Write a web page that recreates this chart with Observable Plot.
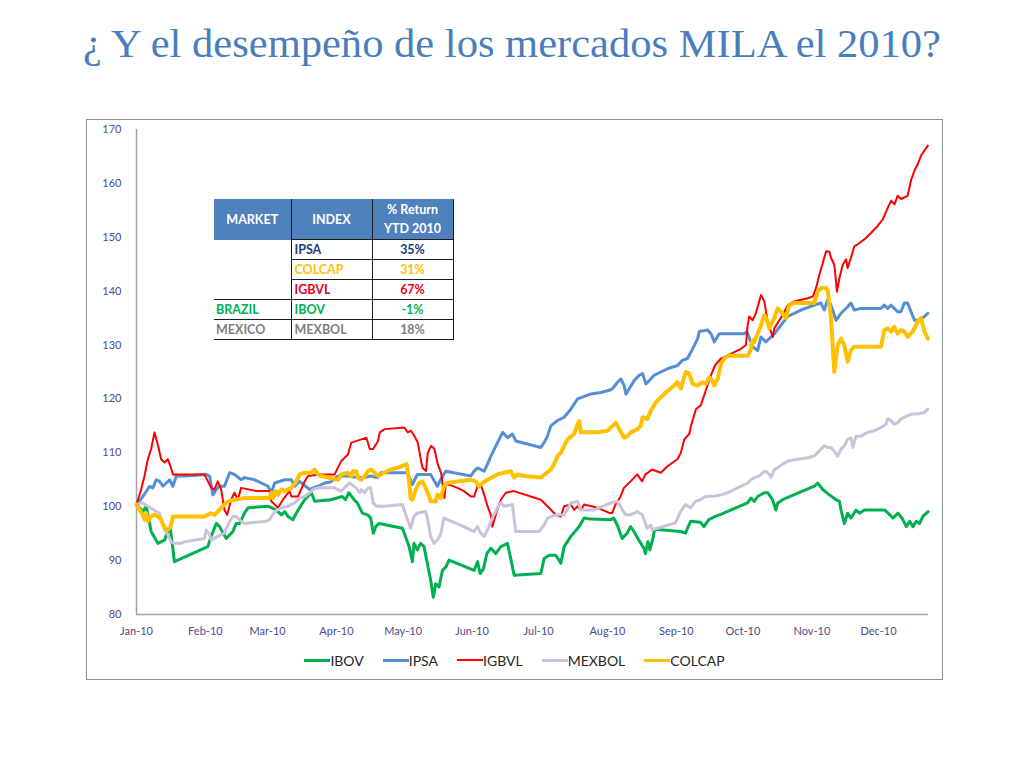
<!DOCTYPE html>
<html>
<head>
<meta charset="utf-8">
<script src="https://cdn.jsdelivr.net/npm/d3@7"></script>
<script src="https://cdn.jsdelivr.net/npm/@observablehq/plot@0.6"></script>
<style>
  html, body { margin: 0; padding: 0; background: #fff; }
  body { width: 1024px; height: 768px; position: relative; overflow: hidden; font-family: Lato, "Open Sans", sans-serif; }
  #title { position: absolute; left: 0; top: 0; }
  #chart { position: absolute; left: 86px; top: 119px; }
  #frame { position: absolute; left: 86px; top: 119px; width: 857px; height: 561px; box-sizing: border-box; border: 1.5px solid #8e8e8e; pointer-events: none; }
  #legend { position: absolute; left: 86px; top: 650px; width: 857px; height: 20px; display: flex; justify-content: center; align-items: center; gap: 19px; font-family: Lato, sans-serif; font-size: 14px; color: #262626; }
  #legend .item { display: flex; align-items: center; }
  #legend .swatch { display: inline-block; width: 26px; }
  #tbl { position: absolute; left: 214px; top: 199px; border-collapse: collapse; table-layout: fixed; width: 239px; font-family: Lato, sans-serif; font-weight: 700; font-size: 12.5px; background: #fff; }
  #tbl th { background: #4f81bd; color: #fff; height: 40px; padding: 0; text-align: center; font-weight: 700; font-size: 12.5px; line-height: 19px; border-right: 1.5px solid #1c1c1c; }
  #tbl th.sub { border-bottom: 1.5px solid #1c1c1c; }
  #tbl td { height: 19px; padding: 0; border-right: 1px solid #1c1c1c; border-bottom: 1px solid #1c1c1c; white-space: nowrap; }
  #tbl td.mk { padding-left: 2px; }
  #tbl td.ix { padding-left: 3px; }
  #tbl td.rt { text-align: center; }
</style>
</head>
<body>
<svg id="title" width="1024" height="100"></svg>
<div id="chart"></div>
<table id="tbl"></table>
<div id="legend"></div>
<div id="frame"></div>
<script>
// ---------- DATA (day offset from 2010-01-01, index level, base 100) ----------
const titleText = "¿ Y el desempeño de los mercados MILA el 2010?";
const seriesNames = ["IBOV", "IPSA", "IGBVL", "MEXBOL", "COLCAP"];
const monthLabels = ["Jan-10","Feb-10","Mar-10","Apr-10","May-10","Jun-10","Jul-10","Aug-10","Sep-10","Oct-10","Nov-10","Dec-10"];
const yTicks = [80, 90, 100, 110, 120, 130, 140, 150, 160, 170];

const ibov = [[0,100.4],[2.9,99.1],[4.4,100.1],[6.6,95.4],[9.6,93.2],[12.6,93.8],[14.1,95.4],[15.3,95.7],[17.1,89.8],[32.1,92.6],[33.6,94.5],[35.9,96.9],[37.4,96.3],[40.4,94.1],[43.4,95.4],[44.9,96.9],[46.4,96.9],[48.6,98.8],[50.2,99.8],[59.2,100.1],[62.9,99.4],[65.2,98.5],[66.7,99.1],[68.2,98.2],[70.4,97.6],[71.9,98.8],[73.4,99.8],[75.7,101.3],[78.7,102.6],[80.2,101.0],[87.4,101.3],[92.6,101.9],[94.1,101.3],[95.6,102.6],[97.9,101.3],[99.4,100.7],[101.7,98.8],[104,98.5],[105.4,97.9],[106.6,95.1],[107.7,96.3],[109.2,96.9],[119.7,96.0],[122.7,92.6],[124.2,89.8],[124.9,93.2],[126.4,92.0],[127.9,93.2],[129.4,92.6],[130.9,89.5],[132.4,86.4],[133.6,83.2],[134.7,85.7],[136.2,85.1],[137.7,88.2],[139.2,88.8],[140.7,90.1],[152,88.2],[153.5,89.8],[154.7,87.6],[156.2,88.5],[157.7,91.3],[159.5,92.3],[161.7,91.3],[164,92.6],[167,93.2],[170,87.3],[182,87.6],[183.5,90.4],[185.7,91.0],[188.7,91.0],[191,89.5],[192.5,92.6],[195.5,94.5],[199.2,96.3],[201.5,97.9],[204.4,97.7],[213.4,97.6],[214.8,97.9],[216.4,96.6],[218.6,94.1],[220.9,95.1],[222.4,96.3],[223.9,95.4],[226.1,93.8],[228.4,92.3],[229.1,91.3],[230.2,93.5],[231.1,92.0],[232.6,94.4],[233.2,95.8],[244.9,95.4],[247.1,95.1],[249.4,97.3],[253.9,97.1],[255.4,96.3],[257.6,97.6],[260.6,98.2],[263,98.6],[275,100.7],[276.6,101.6],[278.1,101.0],[279.6,101.9],[282.6,102.6],[284.1,102.6],[286.3,101.3],[287.8,99.4],[288.6,100.7],[290.8,101.3],[305.1,103.8],[306.6,104.4],[308.9,103.2],[311.9,102.2],[314.9,101.3],[316.4,101.0],[317.1,99.4],[318.6,96.9],[320.1,98.8],[321.6,97.9],[323.9,99.4],[325.4,98.8],[327.7,99.4],[336.7,99.4],[338.3,98.8],[340.5,97.9],[342.8,98.8],[345,97.6],[346.5,96.3],[348,97.3],[349.5,96.3],[351,97.3],[352.5,96.9],[354,98.2],[356.3,99.1]];

const ipsa = [[0,100.4],[2.9,101.9],[5.9,103.8],[7.4,103.5],[8.9,105.0],[10.4,104.7],[11.9,103.8],[14.9,105.0],[16.4,103.8],[17.9,105.7],[21.6,105.7],[31.4,106.0],[32.9,105.7],[34.4,102.2],[35.9,103.2],[37.4,103.8],[39.6,103.8],[41.9,106.3],[44.1,106.0],[47.1,105.0],[48.6,105.4],[53.2,105.0],[56.2,104.4],[59.2,103.8],[60.7,102.6],[62.2,104.4],[66.7,105.0],[69.7,105.0],[71.2,103.8],[73.4,104.7],[77.9,103.2],[81.7,103.8],[84.7,104.4],[87.4,104.6],[90.7,105.7],[95.2,105.7],[99.7,105.4],[102.4,105.4],[105.4,105.7],[108.4,105.4],[109.9,106.3],[121.9,106.3],[124.2,104.1],[126.4,106.0],[132.4,106.0],[135.4,103.8],[136.9,105.0],[139.2,106.6],[150.5,105.7],[152,106.6],[153.5,107.2],[156.5,106.6],[158,107.9],[159.5,109.4],[162.5,111.9],[164.8,113.8],[167,112.8],[169.2,113.5],[170.7,112.2],[182,111.0],[183.5,111.9],[185,113.1],[186.5,115.0],[189.5,116.0],[192.5,116.6],[195.5,118.1],[198.5,120.0],[204.4,120.9],[209,121.2],[212.8,121.6],[214.3,121.9],[216.5,123.1],[218,123.7],[219.5,122.5],[220.3,120.9],[221.8,121.9],[224,123.4],[226.3,124.4],[227.8,124.7],[229.3,122.8],[231.5,123.7],[233,124.4],[239,125.6],[243.5,126.2],[245.8,127.2],[248,127.5],[249.6,128.7],[252.6,131.2],[253.3,132.5],[257.1,132.8],[258.6,132.1],[260.1,130.6],[262.3,132.1],[273.6,132.1],[274.8,132.5],[277.3,129.7],[279.6,129.0],[281.1,131.5],[283.3,130.6],[285.6,131.5],[287.1,132.1],[290.1,133.7],[293.1,135.3],[299.1,136.5],[305.1,137.4],[308.1,137.8],[309.6,136.5],[311.1,138.4],[312.6,137.4],[314.9,134.6],[317.1,135.9],[320.1,137.1],[321.6,137.8],[323.1,136.5],[326.1,136.8],[335.1,136.8],[336.6,137.4],[338.1,136.8],[339.6,137.4],[342.6,136.2],[344.1,136.2],[345.6,137.8],[347.1,137.8],[348.6,136.2],[350.2,134.6],[352.4,134.6],[354.7,135.3],[356.2,135.9]];

const igbvl = [[0,100.4],[2.1,103.2],[3.6,105.7],[5.1,108.8],[6.6,110.7],[8.1,113.8],[9.9,111.0],[11.1,108.8],[12.6,108.2],[14.1,108.8],[15.3,107.5],[16.4,106.0],[30.6,106.0],[33.6,103.5],[35.1,103.2],[36.6,104.7],[38.1,103.2],[39.6,99.4],[40.8,98.5],[42.6,101.3],[44.1,102.6],[45.6,101.3],[47.1,103.5],[53.9,102.9],[59.9,102.9],[60.7,101.0],[62.2,100.4],[63.7,99.8],[65.9,101.3],[68.9,102.9],[69.7,101.9],[72.7,101.9],[75.7,104.7],[77.2,105.7],[81.7,106.0],[89.2,106.0],[92.2,108.5],[95.2,109.7],[96.7,111.9],[101.2,112.5],[103.5,112.8],[105,110.7],[106.5,110.7],[108.7,112.2],[109.5,113.8],[111.7,114.4],[120.6,114.7],[122.1,113.8],[123.6,114.1],[125.1,113.1],[126.6,111.9],[128.1,108.5],[128.8,107.2],[130.3,106.6],[131.1,110.0],[132.6,111.3],[134.1,110.7],[135.6,107.9],[137.1,106.3],[138.6,101.6],[139.2,104.1],[140.7,104.1],[144.5,103.5],[147.4,102.9],[150.5,101.9],[152,101.9],[153.5,103.8],[155,104.1],[156.5,102.2],[158,100.1],[159.5,98.5],[160.2,96.3],[161.7,98.5],[164,101.3],[166.2,102.6],[169.9,102.9],[182,101.3],[183.5,100.7],[185.7,99.8],[188.7,98.5],[191,98.2],[192.5,100.1],[195.5,100.4],[197,99.4],[198.5,100.1],[200,99.4],[201.5,100.4],[207.5,99.8],[212.6,98.9],[214.1,98.8],[215.6,100.4],[217.9,101.9],[219.4,103.5],[220.9,104.1],[222.4,104.7],[225.4,106.0],[227.6,104.7],[229.1,106.0],[232.1,106.9],[236,106.3],[239,107.5],[243.5,108.8],[245,110.0],[246.6,112.5],[248.8,113.5],[249.6,115.0],[251.8,118.1],[254,118.8],[257,122.5],[258.6,124.4],[260.5,126.3],[263.1,127.5],[266.1,128.1],[269.1,128.7],[272.1,129.3],[274.3,130.0],[275.1,133.7],[275.8,135.3],[277.3,134.6],[278.8,135.9],[281.1,139.3],[282.6,138.1],[284.1,134.3],[286.4,131.5],[287.1,133.1],[290.9,135.6],[293.1,137.4],[296.1,138.1],[299.1,138.4],[302.1,138.7],[304.4,139.0],[305.9,140.6],[307.4,143.1],[308.9,145.2],[310.4,147.4],[311.9,147.3],[312.6,146.2],[314.1,144.9],[315.3,139.9],[316.4,142.4],[317.9,144.9],[319.4,145.9],[320.1,144.3],[321.6,146.2],[323.1,148.3],[324.6,148.7],[327.6,149.6],[330.6,150.8],[333.6,152.1],[335.9,153.3],[338.2,155.5],[339.7,156.8],[341.2,156.1],[342.6,157.7],[344.1,157.1],[347.1,157.7],[348.6,160.5],[350.2,162.4],[351.7,163.6],[353.2,165.2],[354.7,166.1],[356.2,167.0]];

const mexbol = [[0,100.4],[2.9,100.7],[5.1,100.1],[8.9,99.1],[10.4,98.8],[11.1,97.6],[12.6,95.7],[14.1,94.8],[15.6,93.5],[17.1,93.2],[20.1,93.2],[21.6,93.5],[26.1,93.8],[30.6,94.1],[31.4,95.7],[32.9,94.8],[33.6,93.8],[36.6,94.5],[39.6,95.1],[41.9,97.3],[43.4,98.2],[44.9,98.2],[47.1,97.3],[48.6,96.9],[58.4,97.3],[59.9,97.6],[62.2,99.1],[65.2,99.8],[68.2,100.1],[71.2,100.7],[73.4,101.6],[75.7,101.9],[77.9,102.6],[79.4,103.2],[81.7,103.5],[89.2,103.5],[92,102.9],[94.4,103.8],[95.9,104.4],[98.9,103.5],[100.5,102.6],[101.2,103.2],[102.7,102.6],[104.2,103.5],[105.4,103.5],[106.5,100.7],[108,100.1],[111.7,100.1],[119.7,100.4],[121.2,98.5],[123.4,96.0],[124.9,98.2],[126.4,98.8],[130.2,99.1],[130.9,97.9],[132.4,94.5],[133.9,93.2],[135.4,93.8],[136.9,94.8],[138.4,97.9],[139.9,97.6],[145.9,96.6],[148.9,96.0],[151.9,95.4],[153.5,96.3],[155,95.1],[156.5,94.5],[158.7,96.3],[160.2,97.9],[162.5,99.8],[164,100.7],[165.5,100.1],[169.2,100.4],[170.7,95.4],[181.2,95.4],[183.5,96.6],[185,97.9],[188.7,98.5],[192.5,98.5],[195.5,100.7],[198.5,101.0],[200,99.4],[206,99.4],[213.4,100.7],[216.4,101.0],[220.1,98.5],[222.4,98.5],[225.4,99.1],[227.6,98.5],[229.9,96.0],[231.4,96.6],[232.1,95.7],[234.4,96.0],[242.6,97.0],[244.9,99.1],[247.1,100.4],[249.4,99.8],[251.6,101.0],[253.9,101.3],[256.1,101.9],[260.6,102.0],[263.1,102.2],[266.1,102.6],[269.1,103.2],[272.1,103.8],[275.1,104.4],[276.6,105.0],[278.1,105.4],[280.3,105.7],[281.8,106.3],[283.3,106.6],[284.8,106.0],[285.6,105.4],[287.1,106.9],[288.6,107.2],[290.8,107.9],[293.1,108.5],[297.6,108.8],[302.1,109.1],[305.1,109.4],[308.1,110.7],[309.6,111.3],[311.1,111.0],[312.6,111.0],[314.1,110.3],[315.6,109.4],[317.1,110.7],[318.6,111.3],[320.1,112.5],[321.6,112.8],[322.4,111.0],[323.9,113.1],[326.1,113.1],[329.1,113.8],[332.1,114.1],[335.1,114.7],[337.4,115.3],[338.1,116.3],[339.6,116.0],[341.1,115.3],[342.6,115.6],[344.1,116.3],[347.1,116.9],[349.4,117.2],[351.6,117.2],[354.7,117.5],[356.2,118.1]];

const colcap = [[0,100.4],[1.8,99.1],[2.9,98.5],[3.6,97.6],[4.4,98.8],[5.1,97.3],[6.6,98.2],[8.1,98.5],[9.6,98.2],[11.1,97.6],[12.6,96.0],[14.1,95.7],[15.3,96.3],[16.4,98.2],[30.6,98.2],[33.6,98.8],[35.1,98.5],[36.6,99.1],[38.1,99.8],[39.6,100.4],[41.1,101.0],[44.1,101.3],[48.6,101.6],[59.9,101.6],[60.7,102.6],[61.4,101.6],[62.9,102.9],[63.7,102.2],[65.2,103.2],[66.7,102.9],[69.7,103.5],[71.9,104.7],[73.4,106.0],[75.7,106.3],[78.7,106.3],[80.2,106.9],[81.7,106.0],[83.2,105.7],[90.7,105.0],[92.2,106.0],[95.2,106.3],[96.7,105.7],[97.4,106.6],[98.9,106.6],[99.7,105.4],[101.2,105.0],[102.7,105.7],[104.2,106.6],[105.7,106.9],[107.2,106.3],[108.7,105.7],[111.4,106.3],[114.4,106.9],[117.4,107.2],[121.6,107.9],[122.6,105.0],[123.4,101.6],[124.2,101.3],[125.7,103.2],[127.2,104.4],[128.7,104.7],[130.2,103.5],[131.7,101.9],[132.4,101.0],[134.7,101.0],[135.4,102.2],[136.9,101.6],[138.4,103.8],[139.9,104.4],[144.4,104.7],[150.5,105.0],[152.7,104.7],[154.2,103.8],[155.7,104.4],[158,105.0],[162.5,106.0],[165.5,106.3],[168.5,106.6],[170,105.4],[171.5,106.0],[174.5,105.7],[182,105.4],[186.5,106.9],[188,107.9],[189.5,109.4],[191,110.0],[192.5,111.3],[194,112.5],[197,113.5],[198.5,115.3],[199.3,115.9],[200,113.8],[207.5,113.8],[212,114.1],[214.3,115.0],[215.8,115.6],[217.3,114.4],[219.5,112.8],[221,113.1],[222.5,113.8],[225.5,114.4],[227,115.0],[227.8,116.6],[230,116.3],[231.5,117.8],[233.8,119.4],[237.5,120.9],[242,122.5],[243.5,123.1],[245,121.9],[246.5,124.0],[247.3,125.0],[248.8,124.7],[250.3,122.8],[252.6,122.5],[254.8,123.1],[256.3,122.8],[257.8,124.0],[259.3,123.4],[260.1,122.5],[261.6,123.7],[263.1,126.5],[264.6,127.5],[266.1,128.0],[275.1,128.0],[276.6,129.3],[277.3,130.9],[278.1,130.6],[279.6,132.1],[281.1,133.7],[282.6,135.6],[284.1,134.3],[284.8,133.1],[287.1,135.0],[288.6,136.8],[290.8,135.9],[292.3,135.0],[293.8,137.4],[296.1,137.8],[305.1,137.8],[306.6,139.9],[308.1,140.6],[310.4,140.6],[311.1,140.2],[312.6,135.0],[314.1,125.0],[315.6,130.0],[317.1,131.2],[318.6,130.0],[320.1,126.9],[321.6,129.0],[323.1,129.7],[335.1,129.7],[336.6,132.8],[338.1,133.1],[339.6,132.5],[341.1,133.4],[342.6,132.1],[344.1,132.8],[345.6,132.5],[347.1,131.5],[349.4,132.5],[351.6,134.3],[353.1,135.0],[354.7,132.5],[356.2,131.2]];

// Table content
const tableHeaders = ["MARKET", "INDEX", "% Return<br>YTD 2010"];
const tableMarkets = [null, null, null, "BRAZIL", "MEXICO"];
const tableIndices = ["IPSA", "COLCAP", "IGBVL", "IBOV", "MEXBOL"];
const tableReturns = ["35%", "31%", "67%", "-1%", "18%"];

// ---------- STYLES ----------
const seriesColors = ["#00b050", "#558ed5", "#ff0000", "#ccc1da", "#ffc000"];
const seriesWidths = [3, 3, 2, 3, 4];
const tableColors = ["#1f3c78", "#ffc000", "#e8001c", "#00b050", "#7f7f7f"];

// ---------- TITLE ----------
const svgNS = "http://www.w3.org/2000/svg";
const tsvg = document.getElementById("title");
const tt = document.createElementNS(svgNS, "text");
tt.setAttribute("x", 83);
tt.setAttribute("y", 57);
tt.setAttribute("font-family", "Liberation Serif, serif");
tt.setAttribute("font-size", 40);
tt.setAttribute("fill", "#4a7dbc");
tt.setAttribute("textLength", 858);
tt.setAttribute("lengthAdjust", "spacingAndGlyphs");
tt.textContent = titleText;
tsvg.appendChild(tt);

// ---------- CHART ----------
const t0 = Date.UTC(2010, 0, 1);
const toDate = d => new Date(t0 + d * 864e5);
const allSeries = [ibov, ipsa, igbvl, mexbol, colcap];
const rows = allSeries.flatMap((arr, i) => arr.map(([d, v]) => ({series: seriesNames[i], date: toDate(d), value: v})));
const monthTicks = d3.utcMonth.range(new Date(t0), toDate(340));

const lineMarks = seriesNames.map((name, i) =>
  Plot.line(rows.filter(r => r.series === name), {
    x: "date", y: "value",
    stroke: seriesColors[i], strokeWidth: seriesWidths[i],
    strokeLinejoin: "round", strokeLinecap: "round"
  })
);

const chart = Plot.plot({
  width: 857,
  height: 561,
  marginLeft: 50,
  marginRight: 15,
  marginTop: 10,
  marginBottom: 66,
  style: {fontFamily: "Lato, sans-serif", fontSize: "11px", color: "#4f4b87", background: "transparent", overflow: "visible"},
  x: {type: "utc", domain: [toDate(0), toDate(356.5)]},
  y: {domain: [80, 170]},
  marks: [
    Plot.ruleY([80], {stroke: "#a3a3a3", strokeWidth: 1.5}),
    Plot.ruleX([toDate(0)], {stroke: "#a3a3a3", strokeWidth: 1.5}),
    Plot.axisY({ticks: yTicks, tickSize: 0, tickPadding: 15, label: null}),
    Plot.axisX({ticks: monthTicks, tickSize: 0, tickPadding: 13, label: null,
      tickFormat: (d) => monthLabels[d.getUTCMonth()]}),
    ...lineMarks
  ]
});
document.getElementById("chart").appendChild(chart);

// ---------- LEGEND ----------
const legend = document.getElementById("legend");
seriesNames.forEach((name, i) => {
  const item = document.createElement("div");
  item.className = "item";
  const sw = document.createElement("span");
  sw.className = "swatch";
  sw.style.height = (i === 2 ? 2 : 3) + "px";
  sw.style.background = seriesColors[i];
  const tx = document.createElement("span");
  tx.textContent = name;
  item.appendChild(sw);
  item.appendChild(tx);
  legend.appendChild(item);
});

// ---------- TABLE ----------
const tbl = document.getElementById("tbl");
const colgroup = document.createElement("colgroup");
[77, 81, 81].forEach(w => { const c = document.createElement("col"); c.style.width = w + "px"; colgroup.appendChild(c); });
tbl.appendChild(colgroup);
const hr = document.createElement("tr");
tableHeaders.forEach((h, i) => {
  const th = document.createElement("th");
  th.innerHTML = h;
  if (i > 0) th.className = "sub";
  hr.appendChild(th);
});
tbl.appendChild(hr);
tableIndices.forEach((ix, i) => {
  const tr = document.createElement("tr");
  if (i === 0) {
    const td = document.createElement("td");
    td.rowSpan = 3;
    tr.appendChild(td);
  } else if (tableMarkets[i] !== null) {
    const td = document.createElement("td");
    td.className = "mk";
    td.textContent = tableMarkets[i];
    td.style.color = tableColors[i];
    tr.appendChild(td);
  }
  const ti = document.createElement("td");
  ti.className = "ix";
  ti.textContent = ix;
  ti.style.color = tableColors[i];
  tr.appendChild(ti);
  const tr2 = document.createElement("td");
  tr2.className = "rt";
  tr2.textContent = tableReturns[i];
  tr2.style.color = tableColors[i];
  tr.appendChild(tr2);
  tbl.appendChild(tr);
});
</script>
</body>
</html>
